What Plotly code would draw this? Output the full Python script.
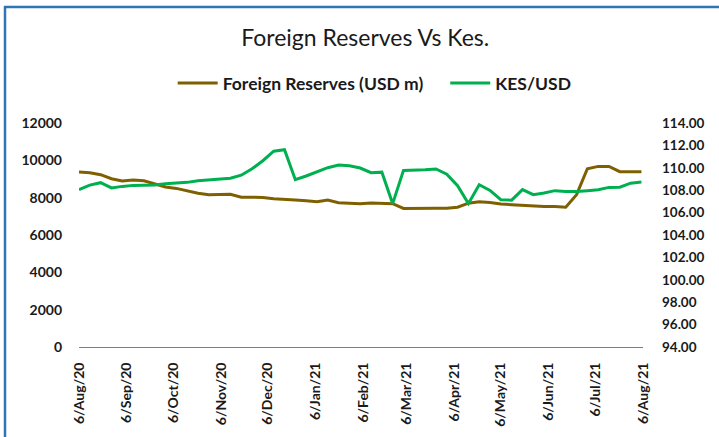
import plotly.graph_objects as go
import pandas as pd

# ---- data ----
dates = pd.date_range("2020-08-06", periods=53, freq="7D")

reserves = [9375, 9337, 9230, 9016, 8893, 8946, 8909, 8721, 8571, 8496,
            8373, 8239, 8159, 8159, 8185, 8025, 8036, 8014, 7944, 7891,
            7875, 7837, 7784, 7875, 7730, 7703, 7677, 7714, 7703, 7677,
            7425, 7436, 7462, 7436, 7436, 7489, 7703, 7784, 7746, 7661,
            7623, 7580, 7553, 7532, 7532, 7489, 8159, 9552, 9675, 9675,
            9391, 9391, 9391]

kes_usd = [108.05, 108.45, 108.67, 108.20, 108.34, 108.43, 108.45, 108.47, 108.58, 108.64,
           108.70, 108.85, 108.94, 109.00, 109.07, 109.34, 109.92, 110.63, 111.48, 111.62,
           108.94, 109.27, 109.65, 110.01, 110.25, 110.19, 109.98, 109.56, 109.61, 106.80,
           109.77, 109.77, 109.83, 109.90, 109.43, 108.40, 106.80, 108.49, 107.98, 107.15,
           107.11, 108.05, 107.60, 107.75, 107.96, 107.89, 107.89, 107.96, 108.05, 108.25,
           108.27, 108.63, 108.73]

tick_dates = ["2020-08-06", "2020-09-06", "2020-10-06", "2020-11-06", "2020-12-06",
              "2021-01-06", "2021-02-06", "2021-03-06", "2021-04-06", "2021-05-06",
              "2021-06-06", "2021-07-06", "2021-08-06"]
tick_labels = ["6/Aug/20", "6/Sep/20", "6/Oct/20", "6/Nov/20", "6/Dec/20",
               "6/Jan/21", "6/Feb/21", "6/Mar/21", "6/Apr/21", "6/May/21",
               "6/Jun/21", "6/Jul/21", "6/Aug/21"]

left_ticks = [0, 2000, 4000, 6000, 8000, 10000, 12000]
left_tick_labels = ["0", "2000", "4000", "6000", "8000", "10000", "12000"]

series_names = ["Foreign Reserves (USD m)", "KES/USD"]

# ---- layout geometry ----
W, H = 719, 437
ML, MR, MT, MB = 79, 76, 123, 90
PW, PH = W - ML - MR, H - MT - MB

def px_x(px):
    return (px - ML) / PW

def px_y(py):
    return (H - MB - py) / PH

FONT = "Lato"
BROWN = "#7F6000"
GREEN = "#00B050"
BLUE = "#2E75B6"
TICKFONT = dict(family=FONT, size=14, color="#1a1a1a", weight="bold")
PAD = "\u00a0" * 4  # extra gap after the first legend entry

fig = go.Figure()
fig.add_trace(go.Scatter(x=dates, y=reserves, mode="lines", name=series_names[0] + PAD,
                         line=dict(color=BROWN, width=3)))
fig.add_trace(go.Scatter(x=dates, y=kes_usd, mode="lines", name=series_names[1],
                         line=dict(color=GREEN, width=3), yaxis="y2"))

fig.update_layout(
    width=W, height=H,
    margin=dict(l=ML, r=MR, t=MT, b=MB, autoexpand=False),
    paper_bgcolor="white", plot_bgcolor="white",
    font=dict(family=FONT, color="#262626"),
    title=dict(text="Foreign Reserves Vs Kes.", x=0.508, xanchor="center",
               y=1 - 38 / H, yanchor="middle",
               font=dict(family=FONT, size=23, color="#1a1a1a")),
    legend=dict(orientation="h", x=177 / W - 0.006, xanchor="left", y=1 - 83 / H, yanchor="middle",
                yref="container", xref="container",
                font=dict(family=FONT, size=17.5, color="#1a1a1a", weight="bold"),
                itemwidth=40, bgcolor="rgba(0,0,0,0)"),
    xaxis=dict(type="date", range=["2020-08-06", "2021-08-06"],
               tickvals=tick_dates, ticktext=tick_labels, tickangle=-90,
               showgrid=False, zeroline=False, showline=True, linecolor="#7f7f7f",
               linewidth=1, ticks="", ticklabelstandoff=9, automargin=False,
               tickfont=TICKFONT),
    yaxis=dict(range=[0, 12000], tickvals=left_ticks, ticktext=left_tick_labels,
               showgrid=False, zeroline=False, automargin=False,
               showline=False, ticks="", ticklabelstandoff=16,
               tickfont=TICKFONT),
    yaxis2=dict(range=[94, 114], dtick=2, tickformat=".2f", overlaying="y", side="right",
                showgrid=False, zeroline=False, showline=False, ticks="", automargin=False,
                ticklabelstandoff=18,
                tickfont=dict(family=FONT, size=13.5, color="#1a1a1a", weight="bold")),
    shapes=[
        dict(type="line", xref="paper", yref="paper",
             x0=px_x(4), x1=px_x(W + 5), y0=px_y(7), y1=px_y(7),
             line=dict(color=BLUE, width=2.5)),
        dict(type="line", xref="paper", yref="paper",
             x0=px_x(5), x1=px_x(5), y0=px_y(6), y1=px_y(H + 5),
             line=dict(color=BLUE, width=2.5)),
    ],
)

fig.write_html("out.html", config={"displayModeBar": False},
               post_script="document.body.style.margin='0';")
